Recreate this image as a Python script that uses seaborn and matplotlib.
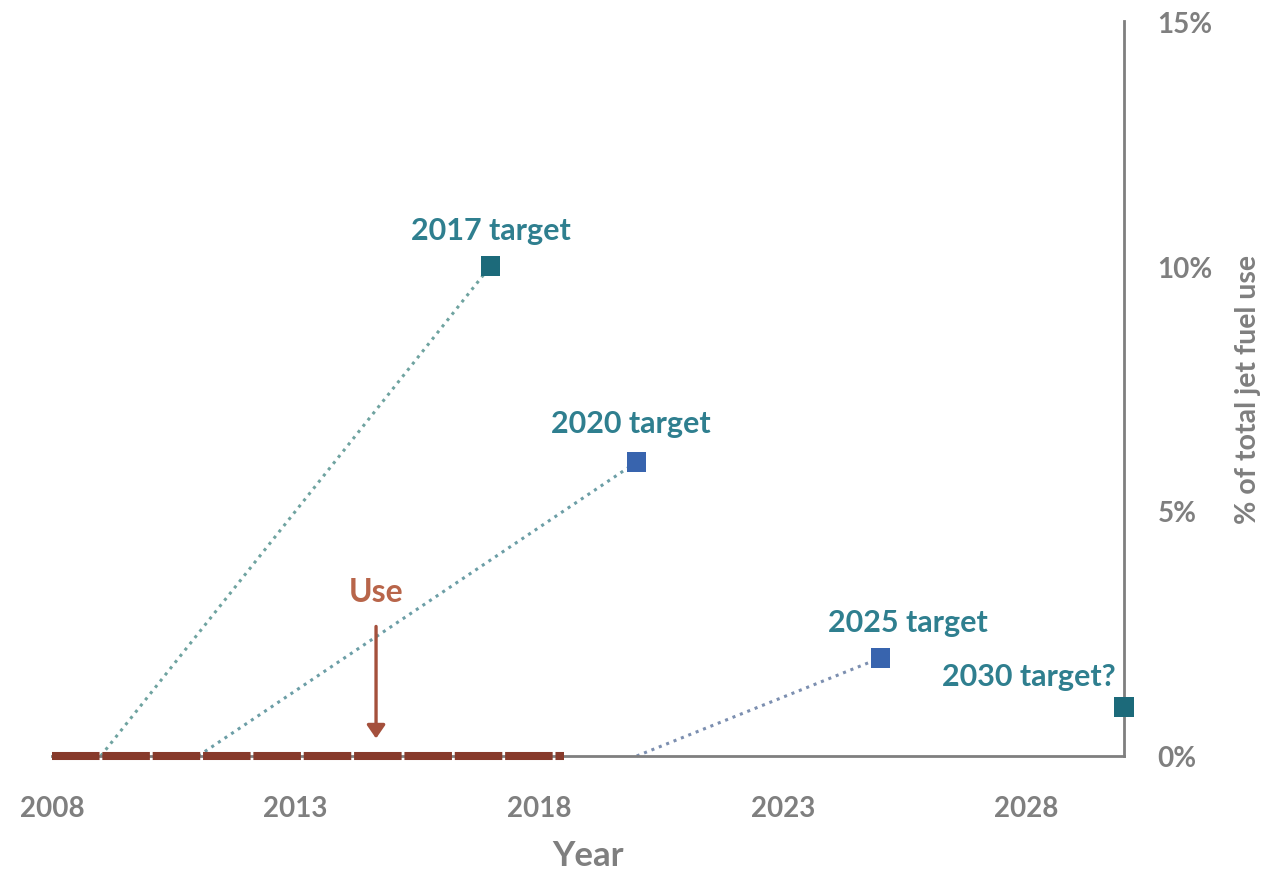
import numpy as np
import matplotlib.pyplot as plt
import pandas as pd
import seaborn as sns

# target points (% of total jet fuel use)
target_labels = ["2017 target", "2020 target", "2025 target", "2030 target?"]
target_years = [2017, 2020, 2025, 2030]
target_share = [10, 6, 2, 1]
line_start_years = [2009, 2011, 2020, None]

# actual use so far
use_years = [2008, 2018.5]
use_share = [0, 0]

x_ticks = [2008, 2013, 2018, 2023, 2028]
y_ticks = [0, 5, 10, 15]

marker_colors = ["#1c6a7a", "#3864ae", "#3864ae", "#1c6a7a"]
line_colors = ["#6fa3a0", "#6c9ea6", "#7c8fb0", None]
text_color = "#2f7f8f"
gray = "#7f7f7f"

sns.set_style("white")
plt.rcParams['font.family'] = ['Lato', 'DejaVu Sans']
plt.rcParams['font.weight'] = 'bold'

fig = plt.figure(figsize=(12.66, 8.70), dpi=100)
ax = fig.add_axes([0.0411, 0.1299, 0.8467, 0.8448])

# dotted lines from start year up to each target
for start, yr, val, col in zip(line_start_years, target_years, target_share, line_colors):
    if start is None:
        continue
    sns.lineplot(x=[start, yr], y=[0, val], ax=ax, color=col, lw=2.2,
                 linestyle=(0, (1, 1.6)), clip_on=False)

# brown "use" line along the bottom
sns.lineplot(x=use_years, y=use_share, ax=ax, color="#873a2b", lw=5.8,
             dashes=False, clip_on=False, zorder=5)
ax.lines[-1].set_linestyle((0, (5.9, 0.35)))
ax.lines[-1].set_solid_capstyle('butt')

targets = pd.DataFrame({"year": target_years, "share": target_share,
                        "label": target_labels})
sns.scatterplot(data=targets, x="year", y="share", hue="label",
                palette=marker_colors, marker="s", s=190, edgecolor="none",
                legend=False, ax=ax, clip_on=False, zorder=6)

offsets = [(0, 16), (-4, 18), (20, 16), (-6, 12)]
aligns = ["center", "center", "center", "right"]
for lab, yr, val, off, ha in zip(target_labels, target_years, target_share, offsets, aligns):
    ax.annotate(lab, (yr, val), xytext=off, textcoords="offset points",
                ha=ha, va="bottom", color=text_color, fontsize=22, fontweight="bold")

# "Use" arrow
ax.annotate("", xy=(2014.65, 0.3), xytext=(2014.65, 2.7),
            arrowprops=dict(arrowstyle="-|>,head_width=0.55,head_length=0.8",
                            color="#a4503c", lw=2.4))
ax.text(2014.65, 3.35, "Use", ha="center", va="center", color="#b8654a",
        fontsize=23, fontweight="bold")

ax.set_xlim(2008, 2030)
ax.set_ylim(0, 15)
ax.set_xticks(x_ticks)
ax.set_yticks(y_ticks)
ax.set_yticklabels([f"{v}%" for v in y_ticks])
ax.yaxis.tick_right()
ax.yaxis.set_label_position("right")
ax.tick_params(axis="both", length=0, colors=gray, labelsize=20)
ax.tick_params(axis="x", pad=28)
ax.tick_params(axis="y", pad=24)
for lab in ax.get_yticklabels():
    lab.set_ha("left")

ax.set_xlabel("Year", fontsize=25, color=gray, fontweight="bold", labelpad=13)
ax.set_ylabel("% of total jet fuel use", fontsize=20.5, color=gray,
              fontweight="bold", labelpad=16)

sns.despine(ax=ax, left=True, top=True, right=False, bottom=False)
for side in ["right", "bottom"]:
    ax.spines[side].set_color(gray)
    ax.spines[side].set_linewidth(2)

fig.savefig("out.png", dpi=100)
